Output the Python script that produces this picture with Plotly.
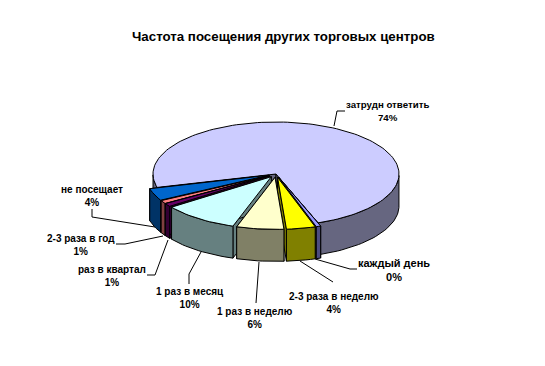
import math
import plotly.graph_objects as go

title = "Частота посещения других торговых центров"
categories = ["каждый день", "2-3 раза в неделю", "1 раз в неделю", "1 раз в месяц",
              "раз в квартал", "2-3 раза в год", "не посещает", "затрудн ответить"]
values = [0.6, 3.8, 6.2, 10.0, 1.0, 1.0, 3.8, 73.6]
percent_labels = ["0%", "4%", "6%", "10%", "1%", "1%", "4%", "74%"]

top_colors = ["#9999FF", "#FFFF00", "#FFFFCC", "#CCFFFF", "#660066", "#FF8080", "#0066CC", "#CCCCFF"]
side_colors = ["#4C4C80", "#808000", "#808066", "#668080", "#330033", "#804040", "#003366", "#666680"]

# layout of the pie in the picture (axes are in pixel units)
CX, CY, RX, RY, DEPTH = 276, 174, 123, 52, 32
EXPLODE = 0.065
START_DEG = 160.0

label_xy = [(394, 269.5), (334, 302.5), (255, 317.5), (190, 297.5),
            (112, 275.5), (81, 244.5), (92, 195.5), (387, 110.5)]
label_sizes = [11, 10, 10, 10, 10, 10, 10, 9.7]
leaders = [
    [(315, 259), (350, 269), (357, 269)],
    [(300, 261), (333, 282)],
    [(259, 262), (256, 303)],
    [(201, 252), (189, 274), (189, 284)],
    [(168, 240), (155, 275), (147, 275)],
    [(163, 236), (125, 244), (116, 244)],
    [(155, 227), (92, 217), (92, 209)],
    [(334, 126), (337, 111), (345, 111)],
]


def pt(cx, cy, deg):
    a = math.radians(deg)
    return cx + RX * math.sin(a), cy - RY * math.cos(a)


fig = go.Figure()


def poly(points, color):
    fig.add_trace(go.Scatter(
        x=[p[0] for p in points] + [points[0][0]],
        y=[p[1] for p in points] + [points[0][1]],
        mode="lines", fill="toself", fillcolor=color,
        line=dict(color="black", width=1), hoverinfo="skip", showlegend=False))


total = sum(values)
slices = []
angle = START_DEG
for i, v in enumerate(values):
    span = v / total * 360
    mid = angle + span / 2
    a = math.radians(mid)
    ex = EXPLODE * RX * math.sin(a) if v < 50 else 0
    ey = -EXPLODE * RY * math.cos(a) if v < 50 else 0
    slices.append(dict(i=i, a0=angle, a1=angle + span, cx=CX + ex, cy=CY + ey, mid=mid))
    angle += span

# painter's order: the large back slice first, then slices from the flanks to the front
slices.sort(key=lambda s: (0 if values[s["i"]] > 50 else 1, -math.cos(math.radians(s["mid"]))))

for s in slices:
    i, cx, cy = s["i"], s["cx"], s["cy"]
    n = max(2, int((s["a1"] - s["a0"]) / 2))
    arc = [pt(cx, cy, s["a0"] + (s["a1"] - s["a0"]) * k / n) for k in range(n + 1)]
    down = lambda p: (p[0], p[1] + DEPTH)
    # radial cut faces
    poly([(cx, cy), arc[0], down(arc[0]), (cx, cy + DEPTH)], side_colors[i])
    poly([(cx, cy), arc[-1], down(arc[-1]), (cx, cy + DEPTH)], side_colors[i])
    # outer wall: only the part that faces the viewer
    wall = [p for k, p in enumerate(arc)
            if math.cos(math.radians(s["a0"] + (s["a1"] - s["a0"]) * k / n)) <= 0.02
            or abs(math.sin(math.radians(s["a0"] + (s["a1"] - s["a0"]) * k / n))) > 0.999]
    if values[i] > 50:
        front1 = [p for k, p in enumerate(arc)
                  if (s["a0"] + (s["a1"] - s["a0"]) * k / n) <= 270]
        front2 = [p for k, p in enumerate(arc)
                  if (s["a0"] + (s["a1"] - s["a0"]) * k / n) >= 450]
        for part in (front1, front2):
            if len(part) > 1:
                poly(part + [down(p) for p in reversed(part)], side_colors[i])
    elif len(wall) > 1:
        poly(wall + [down(p) for p in reversed(wall)], side_colors[i])
    # top face
    poly([(cx, cy)] + arc, top_colors[i])

for path in leaders:
    fig.add_trace(go.Scatter(x=[p[0] for p in path], y=[p[1] for p in path], mode="lines",
                             line=dict(color="black", width=1), hoverinfo="skip", showlegend=False))

annotations = [dict(x=283.5, y=36, text=f"<b>{title}</b>", showarrow=False, xref="x", yref="y",
                    font=dict(family="Liberation Sans", size=13.3, color="black"))]
for c, p, (x, y), sz in zip(categories, percent_labels, label_xy, label_sizes):
    annotations.append(dict(x=x, y=y, text=f"<b>{c}<br>{p}</b>", showarrow=False, xref="x", yref="y",
                            align="center", font=dict(family="Liberation Sans", size=sz, color="black")))

# the page adds an 8 px body margin, so the axes start at pixel 8 of the picture
fig.update_layout(
    width=537, height=358, margin=dict(l=0, r=0, t=0, b=0),
    paper_bgcolor="white", plot_bgcolor="white", showlegend=False,
    xaxis=dict(range=[8, 545], visible=False, fixedrange=True),
    yaxis=dict(range=[366, 8], visible=False, fixedrange=True),
    annotations=annotations)
fig.write_html("out.html", config={"displayModeBar": False})
